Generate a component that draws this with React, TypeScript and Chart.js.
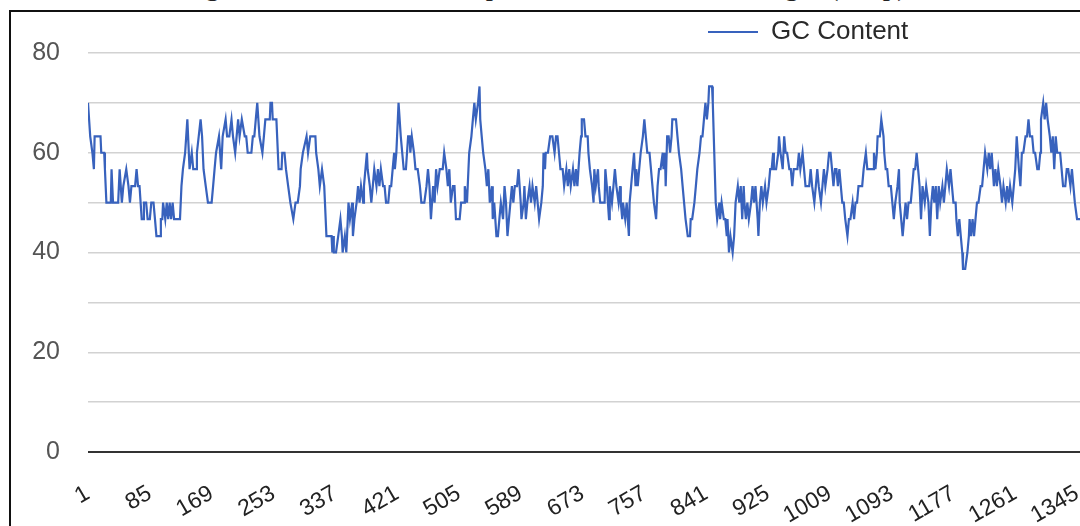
import { useEffect, useRef } from "react";
import { Chart, registerables } from "chart.js";

Chart.register(...registerables);

const titleText = "Figure 1: The GC content plot of the entire ORF length (in bp)";
const seriesLabel = "GC Content";
const xTickValues = [1, 85, 169, 253, 337, 421, 505, 589, 673, 757, 841, 925, 1009, 1093, 1177, 1261, 1345];
const xTickLabels = ["1", "85", "169", "253", "337", "421", "505", "589", "673", "757", "841", "925", "1009", "1093", "1177", "1261", "1345"];
const yTickLabels = ["0", "20", "40", "60", "80"];

const positions = [
  1, 4, 7, 9, 10, 18, 19, 23, 24, 26, 32, 33, 35, 42, 44, 47, 49, 53, 56, 58, 60, 65, 67, 69, 71, 74, 76, 77, 80, 82,
  85, 87, 90, 92, 94, 99, 100, 102, 103, 106, 108, 110, 112, 114, 116, 118, 126, 128, 130, 133, 136, 139, 142, 144, 148, 149, 154, 156, 158, 161,
  164, 169, 171, 173, 175, 179, 182, 184, 188, 190, 193, 196, 198, 201, 205, 207, 210, 214, 216, 218, 223, 225, 227, 229, 231, 234, 238, 240, 242, 248,
  249, 251, 252, 257, 259, 260, 264, 265, 268, 270, 273, 276, 280, 283, 286, 289, 290, 293, 298, 300, 303, 310, 311, 314, 316, 319, 322,
  325, 332, 333, 334, 335, 338, 341, 344, 346, 347, 350, 352, 353, 355, 357, 360, 361, 363, 366, 368, 370, 372, 375, 376, 378, 380, 381, 384, 386, 388,
  390, 393, 395, 397, 399, 402, 404, 406, 409, 411, 413, 415, 417, 418, 420, 421, 423, 426, 428, 430, 433, 436, 438, 439, 441, 444, 446, 449, 452, 454,
  458, 461, 463, 465, 467, 470, 472, 474, 476, 479, 483, 485, 488, 490, 492, 494, 497, 499, 501, 506, 508, 512, 513, 516, 518, 519, 522, 524, 526, 528,
  531, 533, 534, 536, 538, 541, 543, 545, 547, 550, 551, 553, 556, 558, 560, 562, 565, 567, 569, 571, 573, 575, 577, 579, 581, 584, 586, 589, 590, 593,
  594, 596, 598, 601, 603, 605, 608, 610, 612, 614, 617, 619, 620, 622, 623, 626, 629, 632, 635, 637, 639, 641, 643, 646, 648, 651, 653, 655,
  657, 660, 662, 664, 666, 669, 671, 672, 675, 677, 680, 681, 683, 686, 688, 689, 691, 694, 695, 697, 703, 704, 706, 709, 710, 713, 715, 717, 719, 722,
  724, 725, 727, 728, 731, 733, 736, 737, 739, 741, 743, 745, 746, 748, 750, 752, 755, 757, 759, 761, 764, 766, 768, 770, 773, 775, 777, 779, 782, 783,
  785, 786, 788, 790, 792, 794, 795, 800, 802, 804, 807, 809, 811, 813, 816, 819, 820, 822, 825, 827, 829, 832, 834, 836, 838, 840, 842, 844, 845, 849,
  850, 852, 854, 856, 859, 860, 862, 865, 867, 869, 870, 872, 874, 877, 879, 881, 884, 886, 888, 890, 892, 893, 895, 897, 899, 902, 904, 906, 908, 911,
  912, 914, 916, 918, 921, 923, 926, 928, 930, 932, 933, 936, 939, 940, 942, 945, 947, 949, 951, 954, 956, 958, 960, 965, 967, 969, 972, 974, 976, 981,
  983, 985, 988,
  990, 992, 994, 997, 999, 1001, 1003, 1006, 1008, 1010, 1012, 1014, 1016, 1018, 1020, 1022, 1024, 1026, 1028, 1030, 1033, 1035, 1037, 1040, 1042, 1044, 1046, 1048, 1053, 1055,
  1058, 1060, 1068, 1069, 1071, 1073, 1074, 1077, 1079, 1082, 1083, 1085, 1087, 1089, 1092, 1094, 1096, 1098, 1101, 1103, 1104, 1106, 1108, 1110, 1112, 1114, 1116, 1119, 1121, 1123,
  1125, 1127, 1129, 1131, 1133, 1135, 1138, 1140, 1143, 1145, 1147, 1149, 1151, 1153, 1155, 1157, 1159, 1162, 1164, 1166, 1168, 1171, 1173, 1175, 1177, 1180, 1181, 1183, 1185, 1187,
  1189, 1190, 1193, 1196, 1198, 1199, 1201, 1203, 1205, 1207, 1209, 1211, 1214, 1216, 1218, 1220, 1223, 1225, 1227, 1229, 1232, 1234, 1236, 1238, 1241, 1243, 1245, 1248, 1250, 1252,
  1254, 1257, 1259, 1261, 1263, 1266, 1268, 1270, 1272, 1275, 1277, 1279, 1281, 1284, 1286, 1288, 1291, 1293, 1295, 1296, 1299, 1301, 1303, 1305, 1308, 1310, 1312, 1313, 1314, 1316,
  1318, 1322, 1324, 1326, 1329, 1331, 1333, 1336, 1338, 1340, 1342, 1345, 1349,
];

const gcContent = [
  70, 63.3, 60, 56.7, 63.3, 63.3, 60, 60, 56.7, 50, 50, 56.7, 50, 50, 56.7, 50, 53.3, 56.7, 53.3, 50, 53.3, 53.3, 56.7, 53.3, 53.3, 46.7, 46.7, 50, 50, 46.7,
  46.7, 50, 50, 46.7, 43.3, 43.3, 46.7, 46.7, 50, 46.7, 50, 46.7, 50, 46.7, 50, 46.7, 46.7, 53.3, 56.7, 60, 66.7, 56.7, 60, 56.7, 56.7, 60, 66.7, 63.3, 56.7, 53.3,
  50, 50, 53.3, 56.7, 60, 63.3, 56.7, 63.3, 66.7, 63.3, 63.3, 66.7, 63.3, 60, 66.7, 63.3, 66.7, 63.3, 63.3, 60, 60, 63.3, 63.3, 66.7, 70, 63.3, 60, 63.3, 66.7, 66.7,
  70, 70, 66.7, 66.7, 60, 56.7, 56.7, 60, 60, 56.7, 53.3, 50, 46.7, 50, 50, 53.3, 56.7, 60, 63.3, 60, 63.3, 63.3, 60, 56.7, 53.3, 56.7, 53.3,
  43.3, 43.3, 40, 43.3, 40, 40, 43.3, 46.7, 43.3, 40, 43.3, 40, 43.3, 50, 46.7, 50, 43.3, 46.7, 50, 53.3, 50, 53.3, 50, 53.3, 56.7, 60, 56.7, 53.3, 50, 53.3,
  56.7, 53.3, 56.7, 53.3, 56.7, 53.3, 53.3, 50, 50, 53.3, 53.3, 56.7, 60, 56.7, 60, 63.3, 70, 63.3, 60, 56.7, 56.7, 63.3, 63.3, 60, 63.3, 60, 56.7, 56.7, 53.3, 50,
  50, 53.3, 56.7, 53.3, 46.7, 53.3, 50, 56.7, 53.3, 56.7, 56.7, 60, 56.7, 53.3, 56.7, 50, 53.3, 53.3, 46.7, 46.7, 50, 50, 53.3, 50, 56.7, 60, 63.3, 66.7, 70, 66.7,
  70, 73.3, 66.7, 63.3, 60, 56.7, 53.3, 56.7, 50, 53.3, 46.7, 50, 43.3, 43.3, 46.7, 50, 46.7, 53.3, 50, 43.3, 46.7, 50, 53.3, 50, 53.3, 53.3, 56.7, 50, 46.7, 50,
  53.3, 46.7, 50, 53.3, 50, 53.3, 50, 53.3, 50, 46.7, 50, 53.3, 60, 56.7, 60, 60, 63.3, 63.3, 60, 63.3, 63.3, 60, 56.7, 56.7, 53.3, 56.7, 53.3, 56.7,
  53.3, 56.7, 53.3, 56.7, 53.3, 60, 63.3, 66.7, 66.7, 63.3, 63.3, 60, 56.7, 53.3, 50, 56.7, 53.3, 56.7, 53.3, 50, 50, 56.7, 53.3, 46.7, 53.3, 50, 53.3, 56.7, 53.3, 50,
  53.3, 50, 46.7, 50, 46.7, 50, 43.3, 50, 53.3, 56.7, 60, 53.3, 56.7, 53.3, 56.7, 60, 63.3, 66.7, 63.3, 60, 60, 56.7, 53.3, 50, 46.7, 53.3, 56.7, 56.7, 60, 56.7,
  60, 53.3, 63.3, 63.3, 60, 63.3, 66.7, 66.7, 63.3, 60, 56.7, 53.3, 50, 46.7, 43.3, 43.3, 46.7, 46.7, 50, 53.3, 56.7, 60, 63.3, 63.3, 66.7, 70, 66.7, 70, 73.3, 73.3,
  70, 60, 50, 46.7, 50, 46.7, 50, 46.7, 46.7, 43.3, 46.7, 40, 43.3, 40, 43.3, 50, 53.3, 50, 53.3, 46.7, 53.3, 50, 46.7, 50, 46.7, 50, 53.3, 50, 53.3, 46.7,
  43.3, 50, 53.3, 50, 53.3, 50, 53.3, 56.7, 56.7, 60, 56.7, 56.7, 60, 63.3, 60, 56.7, 63.3, 60, 60, 56.7, 56.7, 53.3, 56.7, 56.7, 60, 56.7, 60, 56.7, 53.3, 53.3,
  56.7, 53.3, 50,
  53.3, 56.7, 53.3, 50, 53.3, 56.7, 53.3, 56.7, 60, 60, 56.7, 53.3, 56.7, 56.7, 53.3, 56.7, 53.3, 50, 50, 46.7, 43.3, 46.7, 46.7, 50, 46.7, 50, 50, 53.3, 53.3, 56.7,
  60, 56.7, 56.7, 60, 56.7, 60, 63.3, 63.3, 66.7, 63.3, 60, 56.7, 56.7, 53.3, 53.3, 50, 46.7, 50, 53.3, 56.7, 50, 46.7, 43.3, 46.7, 50, 46.7, 50, 50, 53.3, 56.7,
  56.7, 60, 56.7, 53.3, 46.7, 53.3, 50, 53.3, 50, 43.3, 50, 53.3, 50, 53.3, 46.7, 53.3, 50, 53.3, 50, 53.3, 56.7, 53.3, 56.7, 53.3, 50, 50, 46.7, 43.3, 46.7, 43.3,
  40, 36.7, 36.7, 40, 43.3, 46.7, 43.3, 46.7, 43.3, 46.7, 50, 50, 53.3, 53.3, 56.7, 60, 56.7, 60, 56.7, 60, 53.3, 56.7, 53.3, 56.7, 53.3, 50, 53.3, 50, 53.3, 50,
  53.3, 50, 53.3, 56.7, 63.3, 56.7, 53.3, 60, 60, 63.3, 63.3, 66.7, 63.3, 63.3, 60, 60, 56.7, 56.7, 60, 66.7, 70, 66.7, 70, 66.7, 63.3, 60, 63.3, 60, 56.7, 63.3,
  60, 60, 56.7, 53.3, 53.3, 56.7, 56.7, 53.3, 56.7, 53.3, 50, 46.7, 46.7,
];

const FONT = "'Liberation Sans', Arial, sans-serif";

export default function App() {
  const canvasRef = useRef<HTMLCanvasElement | null>(null);

  useEffect(() => {
    document.body.style.overflow = "hidden";
    const canvas = canvasRef.current;
    if (!canvas) return;

    const legendPlacement = {
      id: "legendPlacement",
      beforeInit(chart: any) {
        const originalFit = chart.legend.fit;
        chart.legend.fit = function fit() {
          originalFit.call(this);
          this.height = 53;
        };
      },
      afterLayout(chart: any) {
        if (chart.legend) {
          chart.legend.left = 689;
        }
      },
    };

    const chart = new Chart(canvas, {
      type: "line",
      data: {
        datasets: [
          {
            label: seriesLabel,
            data: positions.map((p, i) => ({ x: p, y: gcContent[i] })),
            borderColor: "#3862bd",
            backgroundColor: "#3862bd",
            borderWidth: 2.2,
            pointRadius: 0,
            tension: 0,
            fill: false,
          },
        ],
      },
      options: {
        responsive: false,
        animation: false,
        events: [],
        layout: { padding: 0 },
        plugins: {
          tooltip: { enabled: false },
          legend: {
            display: true,
            position: "top",
            align: "start",
            labels: {
              boxWidth: 50,
              boxHeight: 0,
              padding: 19,
              color: "#2a2a2a",
              font: { family: FONT, size: 26 },
            },
          },
        },
        scales: {
          x: {
            type: "linear",
            min: 1,
            max: 1349,
            afterBuildTicks: (scale: any) => {
              scale.ticks = xTickValues.map((v) => ({ value: v }));
            },
            afterFit: (scale: any) => {
              scale.height = 74;
              scale.paddingLeft = 0;
              scale.paddingRight = 0;
            },
            ticks: {
              autoSkip: false,
              minRotation: 30,
              maxRotation: 30,
              padding: 20,
              color: "#222222",
              font: { family: FONT, size: 23 },
              callback: (_v: any, i: number) => xTickLabels[i] ?? "",
            },
            grid: { display: false },
            border: { display: false },
          },
          y: {
            min: 0,
            max: 80,
            afterFit: (scale: any) => {
              scale.width = 88;
            },
            ticks: {
              stepSize: 10,
              padding: 28,
              color: "#555555",
              font: { family: FONT, size: 25 },
              callback: (v: any) => (yTickLabels.includes(String(v)) ? String(v) : ""),
            },
            grid: {
              drawTicks: false,
              color: (ctx: any) => (ctx.tick && ctx.tick.value === 0 ? "#333333" : "#d2d2d2"),
              lineWidth: (ctx: any) => (ctx.tick && ctx.tick.value === 0 ? 2 : 1.5),
            },
            border: { display: false },
          },
        },
      },
      plugins: [legendPlacement],
    });

    return () => {
      chart.destroy();
    };
  }, []);

  return (
    <div
      style={{
        position: "fixed",
        left: 0,
        top: 0,
        width: 1080,
        height: 526,
        overflow: "hidden",
        background: "#ffffff",
      }}
    >
      <div
        style={{
          position: "absolute",
          left: 181,
          top: -28,
          fontFamily: "'Liberation Serif', 'Times New Roman', serif",
          fontSize: 29,
          lineHeight: "26px",
          whiteSpace: "nowrap",
          color: "#222",
        }}
      >
        {titleText}
      </div>
      <canvas
        ref={canvasRef}
        width={1080}
        height={526}
        style={{ position: "absolute", left: 0, top: 0, width: 1080, height: 526 }}
      />
      <div
        style={{
          position: "absolute",
          left: 9,
          top: 10,
          width: 1200,
          height: 700,
          borderLeft: "2px solid #111",
          borderTop: "2px solid #111",
          pointerEvents: "none",
        }}
      />
    </div>
  );
}
